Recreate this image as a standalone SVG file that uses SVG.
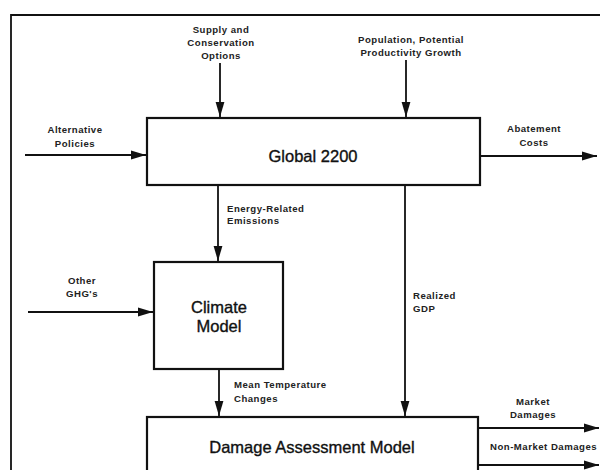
<svg xmlns="http://www.w3.org/2000/svg" width="600" height="470" viewBox="0 0 600 470">
<defs>
<style>
.box{fill:#fff;stroke:#111;stroke-width:2.2}
.ln{stroke:#111;stroke-width:1.8;fill:none}
.title{font-family:"Liberation Sans",Arial,sans-serif;font-size:16.5px;fill:#111;stroke:#111;stroke-width:0.35;text-anchor:middle}
.lbl{font-family:"Liberation Sans",Arial,sans-serif;font-size:9.6px;font-weight:bold;letter-spacing:0.5px;fill:#222}
.c{text-anchor:middle}
</style>
<marker id="ah" markerWidth="16" markerHeight="10" refX="15" refY="5" orient="auto" markerUnits="userSpaceOnUse">
<path d="M0,0.6 L15,5 L0,9.4 Z" fill="#111"/>
</marker>
</defs>
<rect width="600" height="470" fill="#fff"/>
<g id="frame">
<path d="M11,470 L11,15 L600,15" class="ln" stroke-width="2"/>
</g>
<g id="global2200">
<rect x="147" y="118" width="333" height="67" class="box"/>
<text x="313" y="162" class="title">Global 2200</text>
</g>
<g id="climate">
<rect x="154" y="262" width="129" height="107" class="box"/>
<text x="219" y="313" class="title">Climate</text>
<text x="219" y="332" class="title">Model</text>
</g>
<g id="damage">
<rect x="147" y="417" width="331" height="70" class="box"/>
<text x="312" y="453" class="title">Damage Assessment Model</text>
</g>
<g id="connectors">
<line x1="220" y1="63" x2="220" y2="117" class="ln" marker-end="url(#ah)"/>
<line x1="406" y1="60" x2="406" y2="117" class="ln" marker-end="url(#ah)"/>
<line x1="25" y1="155" x2="146" y2="155" class="ln" marker-end="url(#ah)"/>
<line x1="480" y1="156" x2="597" y2="156" class="ln" marker-end="url(#ah)"/>
<line x1="218" y1="185" x2="218" y2="261" class="ln" marker-end="url(#ah)"/>
<line x1="28" y1="312" x2="153" y2="312" class="ln" marker-end="url(#ah)"/>
<line x1="219" y1="369" x2="219" y2="416" class="ln" marker-end="url(#ah)"/>
<line x1="405" y1="185" x2="405" y2="416" class="ln" marker-end="url(#ah)"/>
<line x1="478" y1="428" x2="599" y2="428" class="ln" marker-end="url(#ah)"/>
<line x1="478" y1="465" x2="599" y2="465" class="ln" marker-end="url(#ah)"/>
</g>
<g id="labels">
<text class="lbl c" x="221" y="33">Supply and</text>
<text class="lbl c" x="221" y="46">Conservation</text>
<text class="lbl c" x="221" y="59">Options</text>
<text class="lbl c" x="411" y="43">Population, Potential</text>
<text class="lbl c" x="411" y="56">Productivity Growth</text>
<text class="lbl c" x="75" y="133">Alternative</text>
<text class="lbl c" x="75" y="147">Policies</text>
<text class="lbl c" x="534" y="132">Abatement</text>
<text class="lbl c" x="534" y="146">Costs</text>
<text class="lbl" x="227" y="212">Energy-Related</text>
<text class="lbl" x="227" y="224">Emissions</text>
<text class="lbl c" x="82" y="284">Other</text>
<text class="lbl c" x="82" y="297">GHG's</text>
<text class="lbl" x="234" y="388">Mean Temperature</text>
<text class="lbl" x="234" y="402">Changes</text>
<text class="lbl" x="413" y="299">Realized</text>
<text class="lbl" x="413" y="312">GDP</text>
<text class="lbl c" x="533" y="405">Market</text>
<text class="lbl c" x="533" y="418">Damages</text>
<text class="lbl" x="490" y="450">Non-Market Damages</text>
</g>
</svg>
